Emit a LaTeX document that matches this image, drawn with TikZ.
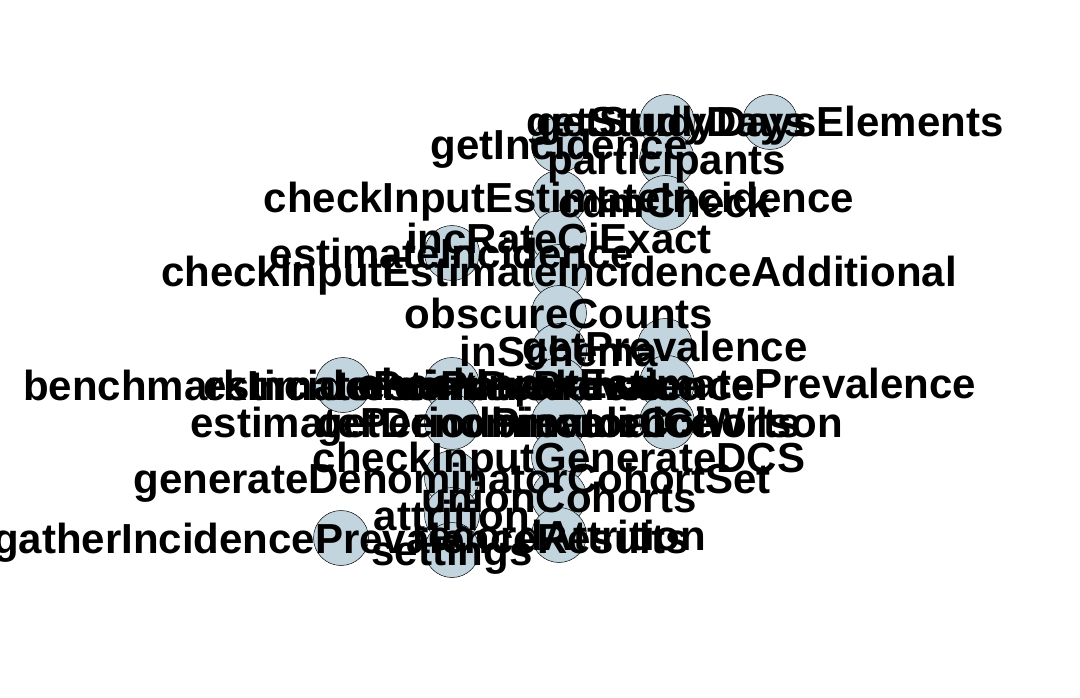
\documentclass[tikz,border=0pt]{standalone}
\usepackage{fontspec}
\setmainfont{Liberation Sans}
\usetikzlibrary{arrows.meta}
\pgfdeclarelayer{bg}
\pgfsetlayers{bg,main}
\definecolor{vfill}{RGB}{194,213,223}
\definecolor{ecol}{RGB}{169,169,169}
\tikzset{
  vert/.style={circle, draw=black, line width=0.5pt, fill=vfill, minimum size=55pt, inner sep=0pt},
  lab/.style={font=\fontsize{42}{42}\selectfont\bfseries, text height=30pt, text depth=0pt, inner sep=0pt, anchor=center},
  edg/.style={draw=ecol, line width=0.7pt, -{Latex[length=13pt,width=7pt]}}
}
\begin{document}
\begin{tikzpicture}[x=1pt,y=-1pt]
\useasboundingbox[fill=white] (0,0) rectangle (1080,698);
% vertices
\node[vert] (sd)   at (667,122) {};
\node[vert] (sde)  at (770,122) {};
\node[vert] (part) at (667,160) {};
\node[vert] (ginc) at (559,145) {};
\node[vert] (ciei) at (559,198) {};
\node[vert] (cdm)  at (665,203) {};
\node[vert] (irc)  at (559,238) {};
\node[vert] (einc) at (452,253) {};
\node[vert] (ceia) at (559,272) {};
\node[vert] (obs)  at (559,313) {};
\node[vert] (ins)  at (559,351) {};
\node[vert] (gprev) at (665,346) {};
\node[vert] (bench) at (343,385) {};
\node[vert] (epoint) at (452,385) {};
\node[vert] (eprev) at (559,385) {};
\node[vert] (ciep) at (667,383) {};
\node[vert] (eper) at (452,422) {};
\node[vert] (gden) at (559,422) {};
\node[vert] (binom) at (667,422) {};
\node[vert] (cgdcs) at (559,457) {};
\node[vert] (gdcs) at (452,478) {};
\node[vert] (union) at (559,497) {};
\node[vert] (attr) at (452,515) {};
\node[vert] (gather) at (341,538) {};
\node[vert] (rattr) at (559,535) {};
\node[vert] (sett) at (452,550) {};
% edges
\begin{pgfonlayer}{bg}
\draw[edg] (bench) -- (einc);
\draw[edg] (bench) -- (epoint);
\draw[edg] (bench) -- (eper);
\draw[edg] (bench) -- (gdcs);
\draw[edg] (einc) -- (ginc);
\draw[edg] (einc) -- (ciei);
\draw[edg] (einc) -- (ceia);
\draw[edg] (einc) -- (obs);
\draw[edg] (einc) -- (irc);
\draw[edg] (einc) -- (epoint);
\draw[edg] (ginc) -- (sd);
\draw[edg] (sd) -- (sde);
\draw[edg] (ciei) -- (cdm);
\draw[edg] (cgdcs) -- (cdm);
\draw[edg] (gprev) -- (cdm);
\draw[edg] (epoint) -- (eprev);
\draw[edg] (eper) -- (eprev);
\draw[edg] (eprev) -- (gprev);
\draw[edg] (eprev) -- (ciep);
\draw[edg] (eprev) -- (binom);
\draw[edg] (eprev) -- (obs);
\draw[edg] (gdcs) -- (cgdcs);
\draw[edg] (gdcs) -- (gden);
\draw[edg] (gdcs) -- (union);
\draw[edg] (gdcs) -- (rattr);
\draw[edg] (union) -- (gprev);
\draw[edg] (gather) -- (attr);
\draw[edg] (gather) -- (sett);
\end{pgfonlayer}
% labels
\node[lab] (l-sd) at (sd) {getStudyDays};
\node[lab] (l-sde) at (sde) {getStudyDaysElements};
\node[lab] (l-part) at (part) {participants};
\node[lab] (l-ginc) at (ginc) {getIncidence};
\node[lab] (l-ciei) at (ciei) {checkInputEstimateIncidence};
\node[lab] (l-cdm) at (cdm) {cdmCheck};
\node[lab] (l-irc) at (irc) {incRateCiExact};
\node[lab] (l-einc) at (einc) {estimateIncidence};
\node[lab] (l-ceia) at (ceia) {checkInputEstimateIncidenceAdditional};
\node[lab] (l-obs) at (obs) {obscureCounts};
\node[lab] (l-ins) at (ins) {inSchema};
\node[lab] (l-gprev) at (gprev) {getPrevalence};
\node[lab] (l-bench) at (bench) {benchmarkIncidencePrevalence};
\node[lab] (l-epoint) at (epoint) {estimatePointPrevalence};
\node[lab] (l-eprev) at (eprev) {estimatePrevalence};
\node[lab] (l-ciep) at (ciep) {checkInputEstimatePrevalence};
\node[lab] (l-eper) at (eper) {estimatePeriodPrevalence};
\node[lab] (l-gden) at (gden) {getDenominatorCohorts};
\node[lab] (l-binom) at (binom) {binomialCiWilson};
\node[lab] (l-cgdcs) at (cgdcs) {checkInputGenerateDCS};
\node[lab] (l-gdcs) at (gdcs) {generateDenominatorCohortSet};
\node[lab] (l-union) at (union) {unionCohorts};
\node[lab] (l-attr) at (attr) {attrition};
\node[lab] (l-gather) at (gather) {gatherIncidencePrevalenceResults};
\node[lab] (l-rattr) at (rattr) {recordAttrition};
\node[lab] (l-sett) at (sett) {settings};
\end{tikzpicture}
\end{document}
